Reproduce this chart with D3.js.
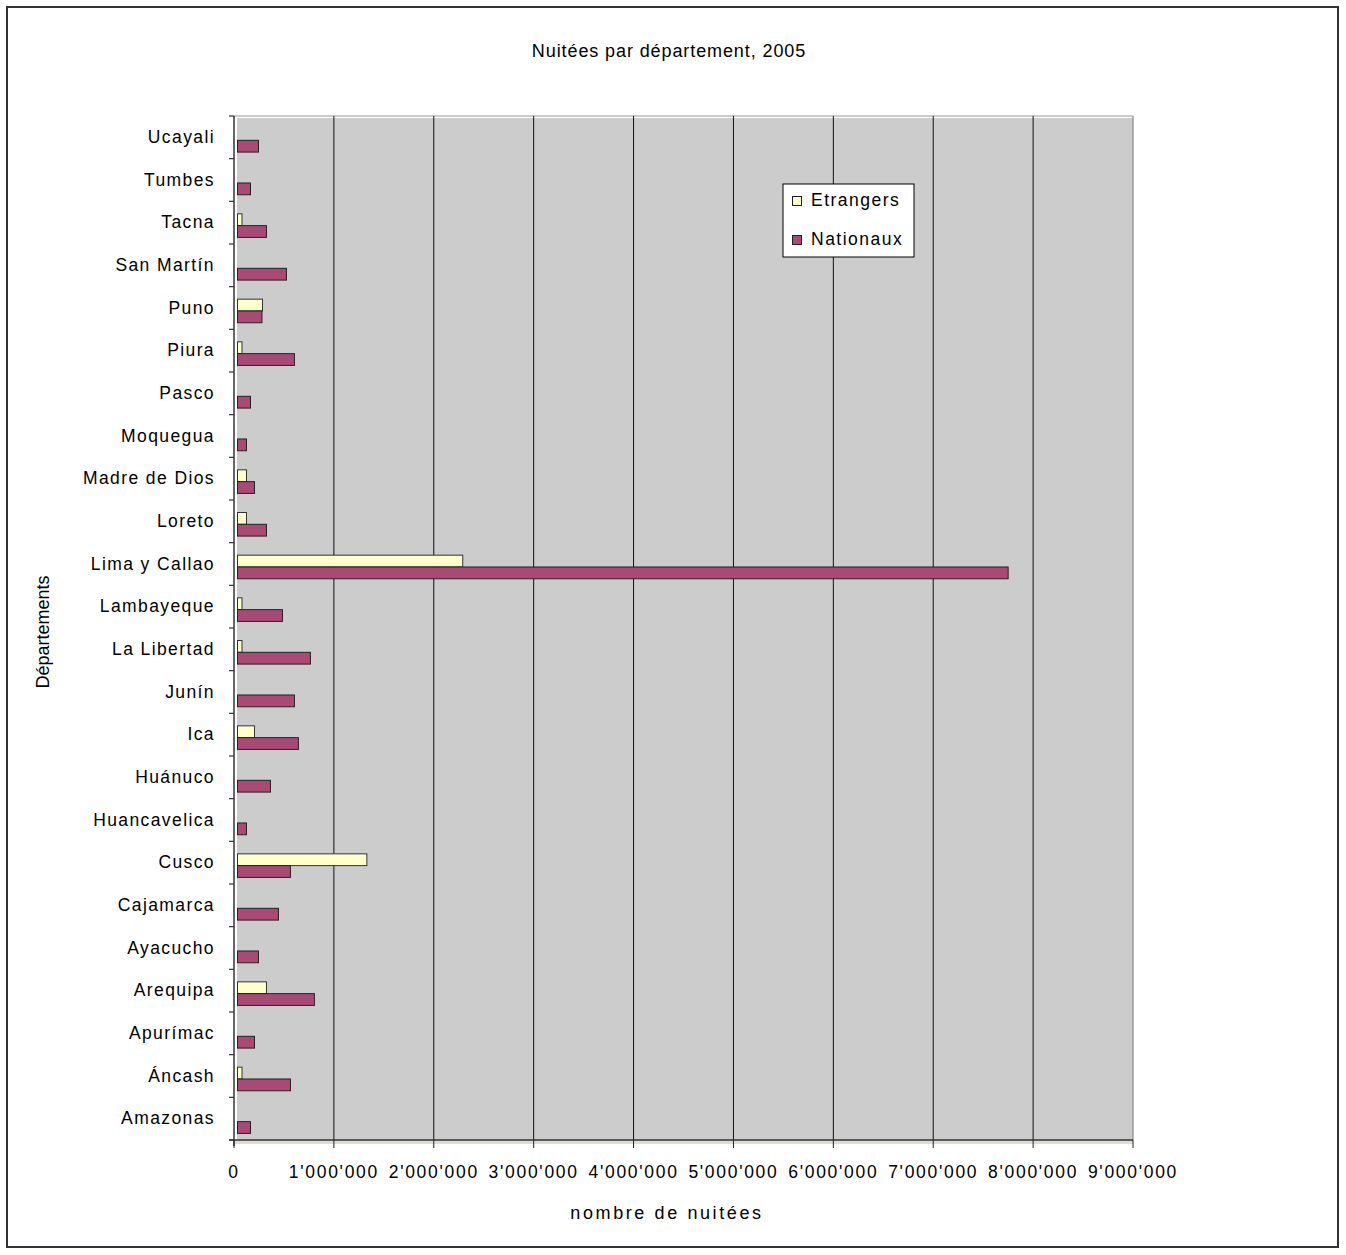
<!DOCTYPE html>
<html>
<head>
<meta charset="utf-8">
<script src="https://cdn.jsdelivr.net/npm/d3@7"></script>
<style>
  html, body { margin: 0; padding: 0; background: #fff; }
  svg text { font-family: "Liberation Sans", Arial, sans-serif; fill: #000; }
</style>
</head>
<body>
<svg id="chart" width="1346" height="1255"></svg>
<script>
// Categories (top to bottom as displayed)
const categories = ["Ucayali", "Tumbes", "Tacna", "San Martín", "Puno", "Piura", "Pasco", "Moquegua",
  "Madre de Dios", "Loreto", "Lima y Callao", "Lambayeque", "La Libertad", "Junín", "Ica", "Huánuco",
  "Huancavelica", "Cusco", "Cajamarca", "Ayacucho", "Arequipa", "Apurímac", "Áncash", "Amazonas"];
const etrangers = [0, 0, 80000, 0, 285000, 80000, 0, 0,
  125000, 125000, 2290000, 80000, 80000, 0, 205000, 0,
  0, 1330000, 0, 0, 325000, 0, 80000, 0];
const nationaux = [245000, 165000, 325000, 525000, 280000, 605000, 165000, 125000,
  205000, 325000, 7750000, 485000, 765000, 605000, 645000, 365000,
  125000, 565000, 445000, 245000, 805000, 205000, 565000, 165000];
const xTicks = [0, 1000000, 2000000, 3000000, 4000000, 5000000, 6000000, 7000000, 8000000, 9000000];
const seriesNames = ["Etrangers", "Nationaux"];
const seriesColors = ["#FFFFCC", "#A94A76"];
const titleText = "Nuitées par département, 2005";
const xTitle = "nombre de nuitées";
const yTitle = "Départements";

(function () {
const svg = d3.select("#chart");

// outer frame
svg.append("rect").attr("x", 7).attr("y", 7).attr("width", 1331).attr("height", 1240)
  .attr("fill", "#fff").attr("stroke", "#333").attr("stroke-width", 2);

const pL = 234, pR = 1133, pT = 116, pB = 1140;
const x = d3.scaleLinear().domain([0, 9000000]).range([pL, pR]);
const y = d3.scaleBand().domain(categories).range([pT, pB]).padding(0);
const bw = y.bandwidth();

// plot background
svg.append("rect").attr("x", pL + 3).attr("y", pT + 2).attr("width", pR - pL - 3).attr("height", pB - pT - 2)
  .attr("fill", "#CCCCCC");
svg.append("line").attr("x1", pL).attr("x2", pR).attr("y1", pT).attr("y2", pT).attr("stroke", "#999").attr("stroke-width", 1);
svg.append("line").attr("x1", pR).attr("x2", pR).attr("y1", pT).attr("y2", pB).attr("stroke", "#888").attr("stroke-width", 1.2);
svg.append("rect").attr("x", pL).attr("y", pB).attr("width", pR - pL).attr("height", 4).attr("fill", "#DDDDD8");

// gridlines
svg.append("g").selectAll("line").data(xTicks.filter(d => d > 0 && d < 9000000)).join("line")
  .attr("x1", d => x(d)).attr("x2", d => x(d)).attr("y1", pT).attr("y2", pB)
  .attr("stroke", "#111").attr("stroke-width", 1);

// bars
const offE = 0.293 * bw, offN = 0.57 * bw, bh = 0.276 * bw;
const data = categories.map((c, i) => ({ c, e: etrangers[i], n: nationaux[i] }));
svg.append("g").selectAll("rect").data(data.filter(d => d.e > 0)).join("rect")
  .attr("x", x(0) + 3.5).attr("y", d => y(d.c) + offE)
  .attr("width", d => Math.max(0, x(d.e) - x(0) - 3.5)).attr("height", bh)
  .attr("fill", seriesColors[0]).attr("stroke", "#333").attr("stroke-width", 1);
svg.append("g").selectAll("rect").data(data.filter(d => d.n > 0)).join("rect")
  .attr("x", x(0) + 3.5).attr("y", d => y(d.c) + offN)
  .attr("width", d => Math.max(0, x(d.n) - x(0) - 3.5)).attr("height", bh)
  .attr("fill", seriesColors[1]).attr("stroke", "#222").attr("stroke-width", 1);

// y axis
const yAxis = svg.append("g").attr("transform", `translate(${pL},0)`);
yAxis.append("line").attr("x1", 0).attr("x2", 0).attr("y1", pT).attr("y2", pB + 6)
  .attr("stroke", "#333").attr("stroke-width", 1.5);
const bounds = categories.map(c => y(c)).concat([pB]);
yAxis.selectAll("line.tk").data(bounds).join("line").attr("class", "tk")
  .attr("x1", -5).attr("x2", 0).attr("y1", d => d).attr("y2", d => d)
  .attr("stroke", "#333").attr("stroke-width", 1.2);
svg.append("g").selectAll("text").data(categories).join("text")
  .attr("x", 215).attr("y", d => y(d) + bw / 2 + 1)
  .attr("text-anchor", "end").attr("dominant-baseline", "middle")
  .attr("font-size", 17.5).attr("letter-spacing", "1.4px")
  .text(d => d);

// x axis
const xAxis = svg.append("g");
xAxis.append("line").attr("x1", pL - 5).attr("x2", pR).attr("y1", pB).attr("y2", pB)
  .attr("stroke", "#333").attr("stroke-width", 1.5);
xAxis.selectAll("line.tk").data(xTicks).join("line").attr("class", "tk")
  .attr("x1", d => x(d)).attr("x2", d => x(d)).attr("y1", pB).attr("y2", pB + 8)
  .attr("stroke", "#222").attr("stroke-width", 1);
const fmt = d => d3.format(",")(d).replace(/,/g, "'");
xAxis.selectAll("text").data(xTicks).join("text")
  .attr("x", d => x(d)).attr("y", 1173).attr("text-anchor", "middle").attr("dominant-baseline", "middle")
  .attr("font-size", 17.5).attr("letter-spacing", "1.7px")
  .text(d => fmt(d));

// titles
svg.append("text").attr("x", 669).attr("y", 52).attr("text-anchor", "middle").attr("dominant-baseline", "middle")
  .attr("font-size", 18).attr("letter-spacing", "0.9px").text(titleText);
svg.append("text").attr("x", 667).attr("y", 1214).attr("text-anchor", "middle").attr("dominant-baseline", "middle")
  .attr("font-size", 18).attr("letter-spacing", "2.6px").text(xTitle);
svg.append("text").attr("transform", "translate(44,632) rotate(-90)").attr("text-anchor", "middle")
  .attr("dominant-baseline", "middle").attr("font-size", 18).text(yTitle);

// legend
const lg = svg.append("g");
lg.append("rect").attr("x", 783).attr("y", 184).attr("width", 131).attr("height", 73)
  .attr("fill", "#fff").attr("stroke", "#000").attr("stroke-width", 1);
seriesNames.forEach((s, i) => {
  const cy = 201 + i * 39;
  lg.append("rect").attr("x", 792.5).attr("y", cy - 4.5).attr("width", 9).attr("height", 9)
    .attr("fill", seriesColors[i]).attr("stroke", "#222").attr("stroke-width", 1);
  lg.append("text").attr("x", 811).attr("y", cy).attr("dominant-baseline", "middle")
    .attr("font-size", 17.5).attr("letter-spacing", "1.5px").text(s);
});
})();
</script>
</body>
</html>
